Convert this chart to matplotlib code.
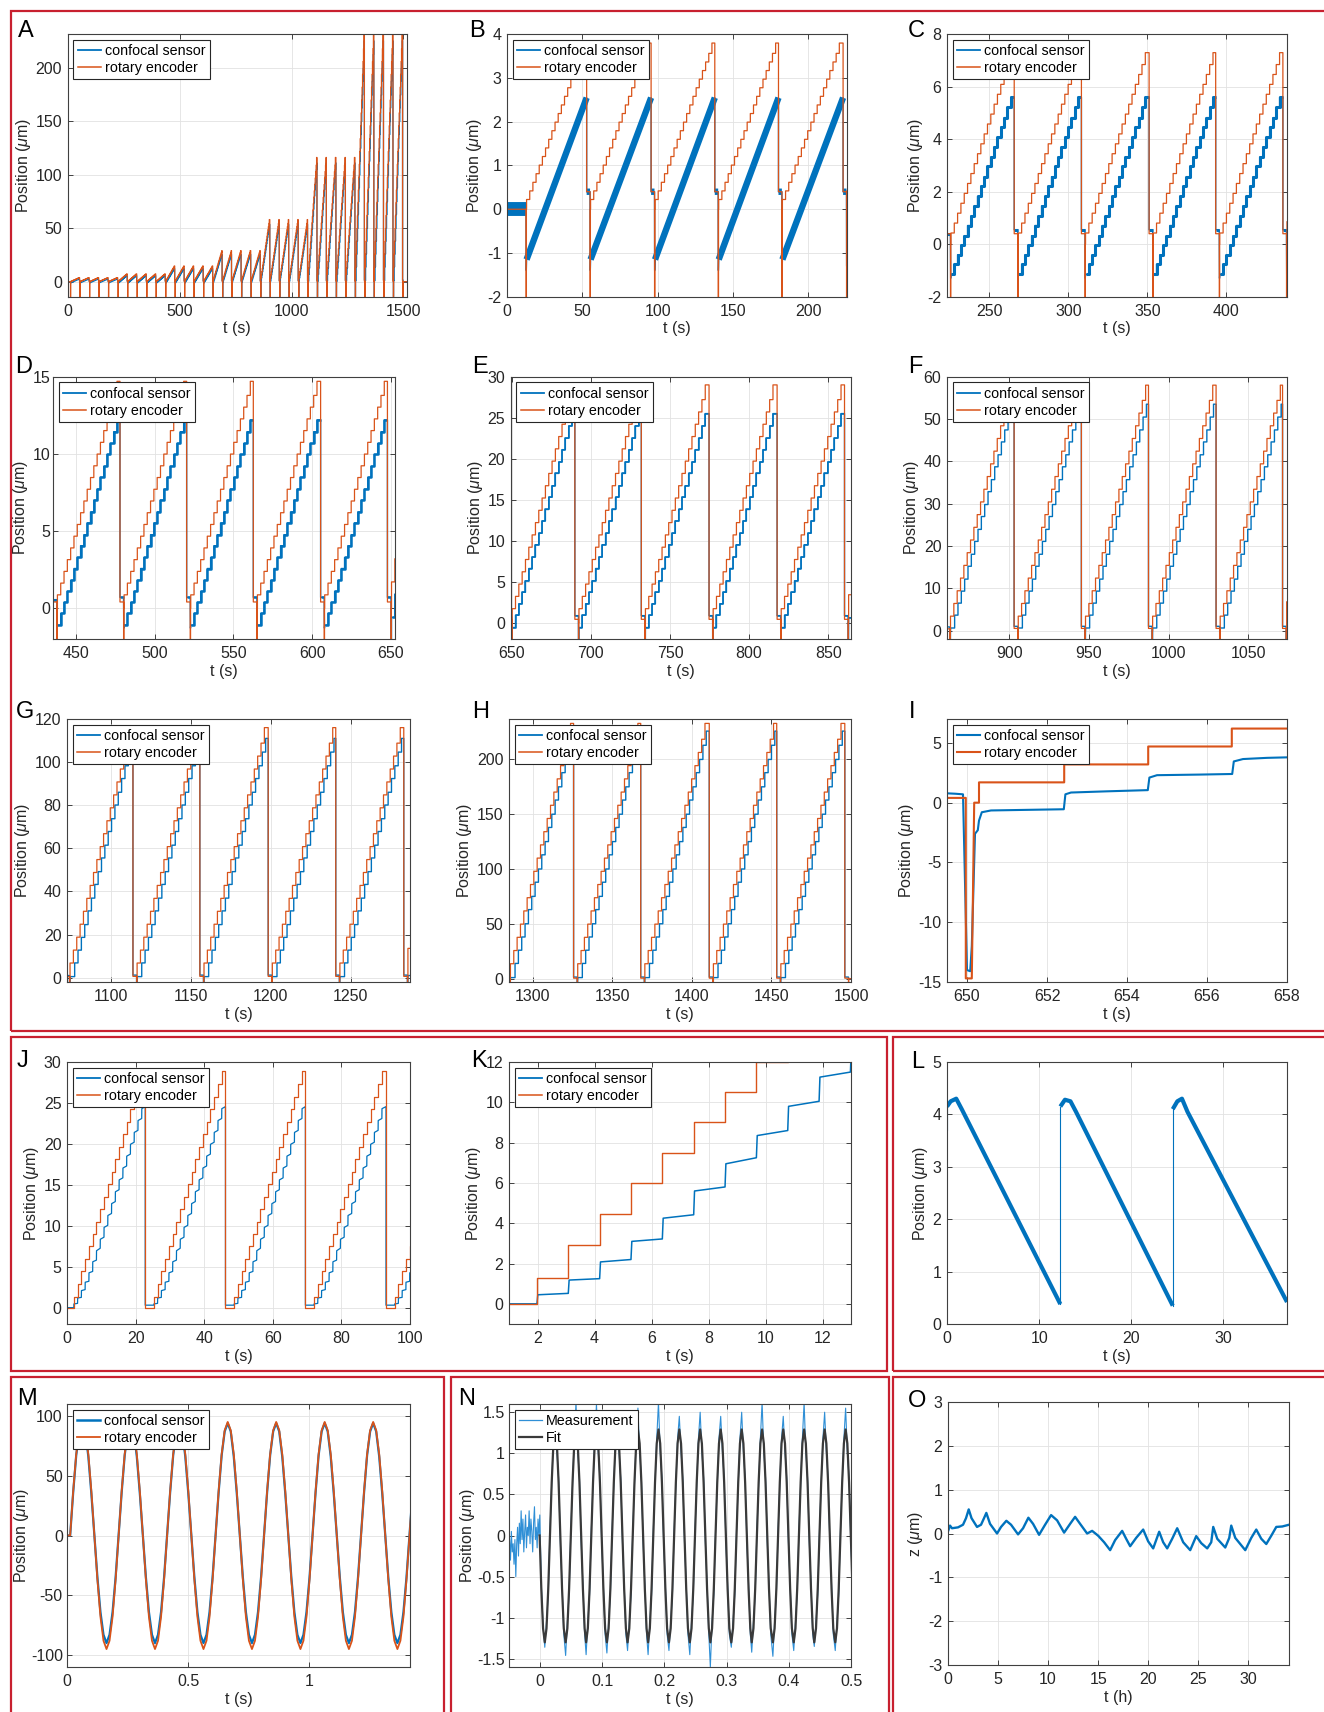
import numpy as np
import matplotlib.pyplot as plt
from matplotlib.patches import Rectangle
from matplotlib.lines import Line2D
from matplotlib.ticker import FuncFormatter

plt.rcParams['font.family'] = ['Liberation Sans', 'DejaVu Sans']
plt.rcParams['mathtext.fontset'] = 'custom'
plt.rcParams['mathtext.rm'] = 'Liberation Sans'
plt.rcParams['mathtext.it'] = 'Liberation Sans:italic'
plt.rcParams['axes.unicode_minus'] = False

BLUE = '#0072BD'
ORANGE = '#D95319'
FIT_GRAY = '#3a3a3a'
MEAS_BLUE = '#2f8fd6'
RED = '#c8202f'
TXT = '#262626'

# ---------------- data ----------------
# one ramp cycle of panel E (um): encoder stair levels and sensor levels
enc_levels_E = [1.7, 3.2, 4.7, 6.2, 7.7, 9.2, 10.7, 12.2, 13.7, 15.2, 16.7, 18.2,
                19.7, 21.2, 22.7, 24.2, 25.7, 27.2, 29.0]
sens_levels_E = [-0.6, 0.9, 2.3, 3.7, 5.1, 6.6, 8.0, 9.5, 10.9, 12.4, 13.8, 15.3,
                 16.7, 18.2, 19.6, 21.1, 22.5, 24.0, 25.5]
step_dwell = 2.1      # s between encoder steps (panel I)
enc_dip = -14.7       # encoder dip at each cycle start (panel I)

# stages B..H : cycle start times (s), encoder top, sensor range
stage_drops = [[12.7, 55.2, 98.0, 140.3, 182.6],
               [225.5, 268.1, 310.6, 353.4, 395.5],
               [438.0, 480.3, 522.6, 564.9, 607.6],
               [650.0, 692.2, 734.2, 777.0, 820.0],
               [862.6, 905.2, 947.5, 989.7, 1032.2],
               [1074.0, 1116.0, 1157.9, 1200.7, 1243.0],
               [1285.6, 1327.9, 1370.1, 1413.2, 1455.6]]
run_end = 1498.4
stage_peak = [3.8, 7.3, 14.7, 29.0, 58.0, 116.0, 232.0]
stage_sens_lo = [-1.15, -1.15, -1.1, -0.6, 0.6, 0.5, 1.0]
stage_sens_hi = [2.55, 5.6, 12.2, 25.5, 53.5, 111.0, 225.0]
stage_reset_enc = [0.4, 0.4, 0.4, 0.4, 0.5, 0.6, 0.5]
stage_reset_sens = [0.4, 0.55, 0.7, 0.85, 1.0, 1.2, 1.5]
stage_sens_dip = [-1.4, -1.3, -1.3, -14.0, -14.0, -14.0, -14.0]
stage_lag = [0.0, 0.0, 0.0, 0.0, 0.5, 0.8, 0.8]
stage_smooth = [True, False, False, False, False, False, False]  # B: noise hides the steps

# panel I : zoom on the start of the t = 650 s cycle
i_enc_t = [649.4, 649.97, 649.97, 650.12, 650.18, 650.3, 650.3, 652.43, 652.43,
           654.53, 654.53, 656.62, 656.62, 658.1]
i_enc_y = [0.4, 0.4, -14.7, -14.7, 0.0, 0.0, 1.7, 1.7, 3.2, 3.2, 4.7, 4.7, 6.2, 6.2]
i_sens_t = [649.4, 649.7, 649.9, 650.0, 650.08, 650.12, 650.2, 650.27, 650.3, 650.37,
            650.6, 651.5, 652.42, 652.46, 652.6, 653.5, 654.52, 654.56, 654.75,
            655.8, 656.63, 656.67, 656.9, 657.5, 658.1]
i_sens_y = [0.8, 0.75, 0.7, -14.0, -14.1, -12.0, -2.6, -2.3, -1.5, -0.8,
            -0.65, -0.6, -0.55, 0.7, 0.85, 0.95, 1.05, 2.1, 2.3,
            2.35, 2.4, 3.45, 3.65, 3.75, 3.8]

# panels J/K : faster ramp
j_enc_levels = [0.0, 1.3, 2.9, 4.45, 5.98, 7.48, 9.0, 10.5, 12.0, 13.55, 15.1, 16.6,
                18.1, 19.65, 21.2, 22.7, 24.2, 25.75, 27.3, 28.9]
j_sens_jump = [0.0, 0.45, 1.18, 2.08, 3.1, 4.25, 5.6, 6.95, 8.35, 9.8, 11.25, 12.7,
               14.15, 15.6, 17.05, 18.5, 19.95, 21.4, 22.85, 24.3]
j_sens_settle = [0.0, 0.52, 1.25, 2.2, 3.22, 4.42, 5.8, 7.25, 8.6, 10.05, 11.5, 12.95,
                 14.4, 15.85, 17.3, 18.75, 20.2, 21.65, 23.1, 24.55]
j_first_step = [1.98, 25.3, 48.7, 72.0, 95.5]
j_drops = [22.8, 46.2, 69.5, 93.0]
j_dwell = 1.1
j_reset_sens = 0.3

# panel L : descending ramps (t in s, position in um)
l_ramp_t = [[0.0, 0.4, 1.0, 1.6, 12.3], [12.3, 12.8, 13.4, 14.0, 24.5],
            [24.5, 25.0, 25.5, 26.1, 36.9]]
l_ramp_y = [[4.15, 4.25, 4.3, 4.1, 0.38], [4.15, 4.28, 4.25, 4.05, 0.35],
            [4.1, 4.25, 4.3, 4.05, 0.42]]

# panel M : 5 Hz oscillation, one period sampled in 16 points
m_cycle_t0 = [0.013, 0.213, 0.413, 0.613, 0.813, 1.013, 1.213, 1.413]
m_period = 0.2
m_enc_wave = [0, 37, 68, 88, 95, 88, 68, 37, 0, -37, -68, -88, -95, -88, -68, -37]
m_sens_wave = [0, 36, 67, 87, 94, 87, 66, 35, 0, -35, -64, -83, -90, -83, -64, -35]

# panel N : 30 Hz oscillation, troughs of each cycle
n_trough_t = [0.008, 0.0415, 0.0744, 0.1078, 0.141, 0.174, 0.2075, 0.241, 0.274,
              0.3077, 0.3405, 0.3745, 0.408, 0.441, 0.4747]
n_period = 0.0333
n_fit_wave = [-1.30, -1.13, -0.65, 0.0, 0.645, 1.12, 1.29, 1.12, 0.645, 0.0, -0.65, -1.13]
n_meas_shape = [-1.30, -1.05, -0.72, 0.06, 0.62, 1.18, 1.29, 1.02, 0.70, -0.08, -0.60, -1.20]
n_meas_peak = [1.45, 1.62, 1.6, 1.5, 1.55, 1.62, 1.45, 1.5, 1.45, 1.5, 1.62, 1.45, 1.62, 1.5, 1.55]
n_meas_trough = [-1.36, -1.46, -1.45, -1.43, -1.4, -1.45, -1.4, -1.45, -1.6, -1.36,
                 -1.42, -1.47, -1.4, -1.35, -1.4]
n_pre = [-0.15, -0.05, -0.3, 0.05, -0.2, -0.1, -0.35, -0.05, -0.5, -0.1, 0.1, -0.25,
         0.15, -0.1, 0.3, -0.05, 0.2, -0.2, 0.05, 0.25, -0.15, 0.1, 0.0, 0.3, -0.1,
         0.2, 0.05, -0.2, 0.15, 0.35, -0.05, 0.1, -0.15, 0.2, 0.0, 0.25]

# panel O : long-term drift (t in h, z in um)
o_t = [0.0, 0.2, 0.4, 1.0, 1.5, 1.8, 2.07, 2.35, 2.9, 3.3, 3.6, 3.83, 4.2, 4.9, 5.3,
       5.83, 6.3, 7.0, 7.5, 8.03, 8.5, 9.1, 9.7, 10.3, 10.9, 11.6, 12.2, 12.7, 13.2,
       13.9, 14.4, 15.0, 15.6, 16.2, 16.7, 17.4, 17.8, 18.2, 18.8, 19.5, 20.0, 20.5,
       21.1, 21.5, 21.9, 22.4, 22.9, 23.5, 24.2, 24.8, 25.3, 25.9, 26.3, 26.5, 26.9,
       27.7, 28.1, 28.3, 28.7, 29.7, 30.3, 30.8, 31.3, 31.8, 32.3, 32.8, 33.4, 34.07]
o_z = [0.05, 0.18, 0.12, 0.14, 0.2, 0.35, 0.55, 0.35, 0.15, 0.2, 0.35, 0.47, 0.22, 0.0,
       0.15, 0.29, 0.2, -0.02, 0.12, 0.36, 0.22, -0.03, 0.2, 0.42, 0.3, 0.02, 0.22,
       0.38, 0.22, 0.0, 0.06, -0.05, -0.2, -0.38, -0.15, 0.06, -0.12, -0.29, -0.1,
       0.09, -0.18, -0.34, 0.04, -0.2, -0.34, -0.12, 0.12, -0.2, -0.38, -0.06, -0.22,
       -0.34, -0.2, 0.15, -0.12, -0.32, -0.1, 0.18, -0.1, -0.38, -0.1, 0.09, -0.12,
       -0.24, -0.05, 0.15, 0.16, 0.2]


# ---------------- build the traces ----------------
def build_run():
    et, ey = [-5.0, stage_drops[0][0]], [0.0, 0.0]
    st, sy = [-5.0, stage_drops[0][0] - 0.05], [0.0, 0.0]
    rt, ry = [], []          # ramp / plateau parts of the sensor (noisy, drawn thick)
    cycles = [(s, td) for s in range(len(stage_drops)) for td in stage_drops[s]]
    for n, (s, td) in enumerate(cycles):
        tn = cycles[n + 1][1] if n + 1 < len(cycles) else run_end
        scale = stage_peak[s] / enc_levels_E[-1]
        lev = [v * scale for v in enc_levels_E]
        lo, hi = stage_sens_lo[s], stage_sens_hi[s]
        span = sens_levels_E[-1] - sens_levels_E[0]
        slev = [lo + (v - sens_levels_E[0]) / span * (hi - lo) for v in sens_levels_E]
        lag = stage_lag[s]
        tr = tn - 2.3
        et += [td, td, td + 0.12, td + 0.18, td + 0.3, td + 0.3]
        ey += [ey[-1], enc_dip, enc_dip, 0.0, 0.0, lev[0]]
        for i in range(1, len(lev)):
            tk = td + 2.4 + (i - 1) * step_dwell
            et += [tk, tk]
            ey += [lev[i - 1], lev[i]]
        et += [tr, tr, tn]
        ey += [lev[-1], stage_reset_enc[s], stage_reset_enc[s]]

        st += [td + 0.05, td + 0.12]
        sy += [stage_sens_dip[s], stage_sens_dip[s]]
        ramp_t, ramp_y = [td + 0.3], [slev[0]]
        if stage_smooth[s]:
            ramp_t.append(tr)
            ramp_y.append(slev[-1])
        else:
            for i in range(1, len(slev)):
                tk = td + 2.4 + (i - 1) * step_dwell + lag
                ramp_t += [tk, tk]
                ramp_y += [slev[i - 1], slev[i]]
            ramp_t.append(tr)
            ramp_y.append(slev[-1])
        st += ramp_t + [tr, tn - 0.05]
        sy += ramp_y + [stage_reset_sens[s], stage_reset_sens[s]]
        rt += ramp_t + [np.nan, tr, tn - 0.05, np.nan]
        ry += ramp_y + [np.nan, stage_reset_sens[s], stage_reset_sens[s], np.nan]
    et += [run_end, run_end + 0.12, run_end + 0.18, 1530.0]
    ey += [enc_dip, enc_dip, 0.0, 0.0]
    st += [run_end + 0.3, 1530.0]
    sy += [0.0, 0.0]
    return et, ey, st, sy, rt, ry


def build_j():
    et, ey = [0.0], [0.0]
    st, sy = [0.0], [0.0]
    s_prev = 0.0
    for c, f in enumerate(j_first_step):
        end = j_drops[c] if c < len(j_drops) else 101.0
        for i in range(1, len(j_enc_levels)):
            tk = f + (i - 1) * j_dwell
            if tk > end:
                break
            et += [tk, tk]
            ey += [j_enc_levels[i - 1], j_enc_levels[i]]
            st += [tk, tk + 0.03]
            sy += [s_prev, j_sens_jump[i]]
            s_prev = j_sens_settle[i]
        if c < len(j_drops):
            et += [end, end]
            ey += [ey[-1], 0.0]
            st += [end, end]
            sy += [s_prev, j_reset_sens]
            s_prev = j_reset_sens
        else:
            et.append(end)
            ey.append(ey[-1])
            st.append(end)
            sy.append(s_prev)
    return et, ey, st, sy


def tile(starts, period, waves):
    t, v = [], []
    for a, wave in zip(starts, waves):
        n = len(wave)
        for i, w in enumerate(wave):
            t.append(a + i * period / n)
            v.append(w)
    return t, v


run_et, run_ey, run_st, run_sy, run_rt, run_ry = build_run()
j_et, j_ey, j_st, j_sy = build_j()

m_t_enc, m_y_enc = tile(m_cycle_t0, m_period, [m_enc_wave] * len(m_cycle_t0))
m_t_sens, m_y_sens = tile(m_cycle_t0, m_period, [m_sens_wave] * len(m_cycle_t0))
m_t_enc, m_y_enc = [0.0] + m_t_enc, [0.0] + m_y_enc
m_t_sens, m_y_sens = [0.0] + m_t_sens, [0.0] + m_y_sens

n_t_fit, n_y_fit = tile(n_trough_t, n_period, [n_fit_wave] * len(n_trough_t))
lead_t = [n_trough_t[0] - k * n_period / 12 for k in (3, 2, 1)]
n_t_fit = lead_t + n_t_fit
n_y_fit = [n_fit_wave[9], n_fit_wave[10], n_fit_wave[11]] + n_y_fit
meas_waves = []
for pk, tr in zip(n_meas_peak, n_meas_trough):
    w = list(n_meas_shape)
    w[0], w[6] = tr, pk
    meas_waves.append(w)
n_t_meas, n_y_meas = tile(n_trough_t, n_period, meas_waves)
n_t_pre = list(np.linspace(-0.05, 0.0, len(n_pre)))
n_t_meas = n_t_pre + lead_t[1:] + n_t_meas
n_y_meas = n_pre + [-0.6, -1.1] + n_y_meas

# ---------------- figure ----------------
W, H = 1324, 1712
fig = plt.figure(figsize=(W / 100, H / 100), dpi=100, facecolor='white')

layout = {
    'A': (67.7, 34.3, 407, 296.7), 'B': (507, 34.3, 847, 296.7), 'C': (947, 34.3, 1287, 296.7),
    'D': (53, 376.7, 395, 639), 'E': (510.6, 376.7, 851, 639), 'F': (947, 376.7, 1287, 639),
    'G': (67, 719, 410, 982), 'H': (509, 719, 851, 982), 'I': (947, 719, 1287, 982),
    'J': (67, 1062, 410, 1324), 'K': (509, 1062, 851, 1324), 'L': (947, 1062, 1287, 1324),
    'M': (67, 1404, 410, 1667), 'N': (509, 1404, 851, 1667), 'O': (948, 1402, 1289, 1665),
}
letters = {
    'A': (18, 37), 'B': (469, 37), 'C': (908, 37), 'D': (15, 373), 'E': (472, 373),
    'F': (908, 373), 'G': (16, 718), 'H': (472, 718), 'I': (909, 718), 'J': (17, 1067),
    'K': (471, 1067), 'L': (911, 1068), 'M': (17, 1405), 'N': (458, 1405), 'O': (908, 1407),
}

fmt = FuncFormatter(lambda v, p: '%g' % round(v, 6))


def make_ax(key):
    x0, y0, x1, y1 = layout[key]
    ax = fig.add_axes([x0 / W, 1 - y1 / H, (x1 - x0) / W, (y1 - y0) / H])
    lx, ly = letters[key]
    fig.text(lx / W, 1 - ly / H, key, fontsize=17, color='black', va='baseline', ha='left')
    return ax


def style(ax, xlim, ylim, xticks, yticks, xlabel='t (s)', ylabel=r'Position ($\mu$m)',
          ypad=4, ylabelpad=2):
    ax.set_xlim(xlim)
    ax.set_ylim(ylim)
    ax.set_xticks(xticks)
    ax.set_yticks(yticks)
    ax.xaxis.set_major_formatter(fmt)
    ax.yaxis.set_major_formatter(fmt)
    ax.grid(True, color='#e2e2e2', lw=0.6)
    ax.set_axisbelow(True)
    ax.tick_params(direction='in', top=True, right=True, length=3.5, width=0.6,
                   colors=TXT, labelsize=11.5)
    ax.tick_params(axis='x', pad=5)
    ax.tick_params(axis='y', pad=ypad)
    for sp in ax.spines.values():
        sp.set_color('#404040')
        sp.set_linewidth(0.8)
    ax.set_xlabel(xlabel, fontsize=11.5, color=TXT, labelpad=2)
    ax.set_ylabel(ylabel, fontsize=11.5, color=TXT, labelpad=ylabelpad)


def legend(ax, labels=('confocal sensor', 'rotary encoder'), colors=(BLUE, ORANGE), widths=(1.3, 1.1)):
    handles = [Line2D([], [], color=c, lw=w) for c, w in zip(colors, widths)]
    leg = ax.legend(handles, labels, loc='upper left', fontsize=10.3, frameon=True,
                    fancybox=False, edgecolor='#262626', framealpha=1, borderaxespad=0.4,
                    borderpad=0.3, handlelength=1.6, handletextpad=0.3, labelspacing=0.2)
    leg.get_frame().set_linewidth(0.8)


def run_panel(key, xlim, ylim, xticks, yticks, sens_lw, enc_lw=0.9, ypad=4):
    ax = make_ax(key)
    if key == 'B':
        ax.plot([0.0, stage_drops[0][0]], [0.0, 0.0], color=BLUE, lw=10, solid_capstyle='butt')
    ax.plot(run_st, run_sy, color=BLUE, lw=min(sens_lw, 1.0))
    if sens_lw > 1.0:
        ax.plot(run_rt, run_ry, color=BLUE, lw=sens_lw, solid_capstyle='butt')
    ax.plot(run_et, run_ey, color=ORANGE, lw=enc_lw)
    style(ax, xlim, ylim, xticks, yticks, ypad=ypad)
    legend(ax)
    return ax


run_panel('A', (0, 1516), (-14, 231), [0, 500, 1000, 1500], range(0, 201, 50), 0.9)
run_panel('B', (0, 225.8), (-2, 4), range(0, 201, 50), range(-2, 5), 4.6)
run_panel('C', (223.3, 438.3), (-2, 8), range(250, 401, 50), range(-2, 9, 2), 2.2)
run_panel('D', (435.5, 652.5), (-2, 15), range(450, 651, 50), range(0, 16, 5), 1.8, ypad=2)
run_panel('E', (649.3, 864.4), (-2, 30), range(650, 851, 50), range(0, 31, 5), 1.1)
run_panel('F', (860.7, 1074.5), (-2, 60), range(900, 1051, 50), range(0, 61, 10), 1.0)
run_panel('G', (1072.4, 1287.2), (-2, 120), range(1100, 1251, 50), range(0, 121, 20), 1.0)
run_panel('H', (1285, 1500), (-3, 236), range(1300, 1501, 50), range(0, 201, 50), 1.0)

# I
ax = make_ax('I')
ax.plot(i_sens_t, i_sens_y, color=BLUE, lw=1.5)
ax.plot(i_enc_t, i_enc_y, color=ORANGE, lw=1.5)
style(ax, (649.5, 658), (-15, 7), range(650, 659, 2), range(-15, 6, 5))
legend(ax, widths=(1.5, 1.5))

# J, K
ax = make_ax('J')
ax.plot(j_st, j_sy, color=BLUE, lw=0.9)
ax.plot(j_et, j_ey, color=ORANGE, lw=0.9)
style(ax, (0, 100), (-2, 30), range(0, 101, 20), range(0, 31, 5))
legend(ax)

ax = make_ax('K')
ax.plot(j_st, j_sy, color=BLUE, lw=1.1)
ax.plot(j_et, j_ey, color=ORANGE, lw=1.0)
style(ax, (1, 13), (-1, 12), range(2, 13, 2), range(0, 13, 2))
legend(ax)

# L
ax = make_ax('L')
for k in range(len(l_ramp_t) - 1):
    ax.plot([l_ramp_t[k][-1], l_ramp_t[k + 1][0]], [l_ramp_y[k][-1], l_ramp_y[k + 1][0]],
            color=BLUE, lw=0.8)
ax.plot([0.0, 0.0], [3.7, l_ramp_y[0][0]], color=BLUE, lw=0.8)
for tt, yy in zip(l_ramp_t, l_ramp_y):
    ax.plot(tt, yy, color=BLUE, lw=3.0, solid_capstyle='butt')
style(ax, (0, 36.9), (0, 5), [0, 10, 20, 30], range(0, 6))

# M
ax = make_ax('M')
ax.plot(m_t_sens, m_y_sens, color=BLUE, lw=1.6)
ax.plot(m_t_enc, m_y_enc, color=ORANGE, lw=1.3)
style(ax, (0, 1.415), (-110, 110), [0, 0.5, 1], range(-100, 101, 50), ypad=3, ylabelpad=0)
legend(ax, widths=(1.8, 1.3))

# N
ax = make_ax('N')
ax.plot(n_t_meas, n_y_meas, color=MEAS_BLUE, lw=0.8)
ax.plot(n_t_fit, n_y_fit, color=FIT_GRAY, lw=1.6)
style(ax, (-0.0495, 0.5), (-1.6, 1.6), [0, 0.1, 0.2, 0.3, 0.4, 0.5],
      [-1.5, -1, -0.5, 0, 0.5, 1, 1.5], ypad=3, ylabelpad=0)
legend(ax, labels=('Measurement', 'Fit'), colors=(MEAS_BLUE, FIT_GRAY), widths=(0.9, 1.6))

# O
ax = make_ax('O')
ax.plot(o_t, o_z, color=BLUE, lw=1.7)
style(ax, (0, 34.07), (-3, 3), range(0, 31, 5), range(-3, 4), xlabel='t (h)',
      ylabel=r'z ($\mu$m)')

# red frames around the groups of panels
frames = [(11, 11, 1340, 1031), (11, 1037, 887, 1371), (893, 1037, 1340, 1371),
          (11, 1377, 444, 1725), (451, 1377, 889, 1725), (893, 1377, 1340, 1725)]
for x0, y0, x1, y1 in frames:
    fig.add_artist(Rectangle((x0 / W, 1 - y1 / H), (x1 - x0) / W, (y1 - y0) / H,
                             transform=fig.transFigure, fill=False, edgecolor=RED, lw=1.6))

fig.savefig('out.png', dpi=100, facecolor='white')
